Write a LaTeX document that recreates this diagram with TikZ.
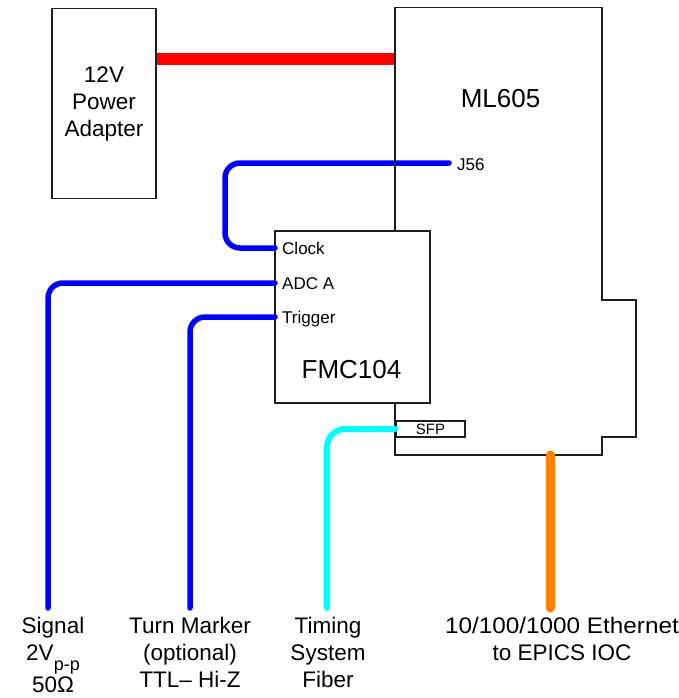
\documentclass[tikz,border=0pt]{standalone}
\usepackage{fontspec}
\setmainfont{Liberation Sans}
\definecolor{cblue}{RGB}{0,0,255}
\definecolor{ccyan}{RGB}{0,255,255}
\definecolor{corange}{RGB}{255,128,0}
\definecolor{cred}{RGB}{255,0,0}
\definecolor{cline}{RGB}{30,30,30}
\begin{document}
\begin{tikzpicture}[x=1pt,y=-1pt,
  box/.style={draw=cline, line width=1.5pt, fill=white, inner sep=0pt},
  outline/.style={draw=cline, line width=1.5pt, line join=miter},
  bluecable/.style={draw=cblue, line width=5.5pt, line cap=round, rounded corners=15pt},
  cyancable/.style={draw=ccyan, line width=6pt, line cap=round, rounded corners=18pt},
  orangecable/.style={draw=corange, line width=9pt, line cap=round},
  redcable/.style={draw=cred, line width=11.5pt},
  pinlabel/.style={font=\fontsize{17}{20}\selectfont, anchor=base west, inner sep=0pt},
  biglabel/.style={font=\fontsize{26}{31}\selectfont, anchor=base, inner sep=0pt},
  bottomlabel/.style={font=\fontsize{22.5}{27}\selectfont, anchor=base, inner sep=0pt}]
\useasboundingbox (0,0) rectangle (679,698);

% boxes
\node[box, minimum width=104pt, minimum height=189.5pt, align=center,
      font=\fontsize{22.5}{27}\selectfont] (pwr) at (104,103.5) {12V\\Power\\Adapter};
\node[box, minimum width=155pt, minimum height=172pt] (fmc) at (352.5,317) {};

% connection points
\coordinate (mlred) at (395,59);
\coordinate (j56) at (449,163);
\coordinate (bend) at (225,163);
\coordinate (clkpin) at (275,248);
\coordinate (adcpin) at (275,283);
\coordinate (trigpin) at (275,317);
\coordinate (sigend) at (48,608);
\coordinate (tmend) at (190,608);
\coordinate (fibend) at (327,608);
\coordinate (ethtop) at (550,455);
\coordinate (ethend) at (550,608);

% cables
\draw[redcable] (pwr.east |- mlred) -- (mlred);
\draw[bluecable] (j56) -- (bend) |- (clkpin);
\draw[bluecable] (adcpin) -| (sigend);
\draw[bluecable] (trigpin) -| (tmend);

% ML605 outline
\draw[outline] (fmc.north -| mlred) -- (395,7.5) -- (602,7.5) -- (602,300) -- (636,300)
  -- (636,437) -- (602,437) -- (602,455) -- (395,455) -- (fmc.south -| mlred);

\node[box, minimum width=69pt, minimum height=16pt, font=\fontsize{15}{17}\selectfont] (sfp) at (430.5,429) {SFP};
\draw[cyancable] (sfp.west) -| (fibend);
\draw[orangecable] (ethtop) -- (ethend);

% labels
\node[biglabel] (mltxt) at (500.5,107) {ML605};
\node[biglabel] (fmctxt) at (351.5,378) {FMC104};
\node[pinlabel] (clktxt) at (282,254) {Clock};
\node[pinlabel] (adctxt) at (282,289) {ADC A};
\node[pinlabel] (trigtxt) at (282,323) {Trigger};
\node[pinlabel] (j56txt) at (457,170) {J56};

\node[bottomlabel] (sigtxt) at (53,633) {\begin{tabular}[t]{@{}c@{}}Signal\\2V\raisebox{-10pt}[0pt][0pt]{\fontsize{18}{22}\selectfont p-p}\\[5pt]50Ω\end{tabular}};
\node[bottomlabel] (tmtxt) at (190,633) {\begin{tabular}[t]{@{}c@{}}Turn Marker\\(optional)\\TTL– Hi-Z\end{tabular}};
\node[bottomlabel] (fibtxt) at (328,633) {\begin{tabular}[t]{@{}c@{}}Timing\\System\\Fiber\end{tabular}};
\node[bottomlabel] (ethtxt) at (562,633) {\begin{tabular}[t]{@{}c@{}}\scalebox{1.08}[1]{10/100/1000 Ethernet}\\to EPICS IOC\end{tabular}};
\end{tikzpicture}
\end{document}
